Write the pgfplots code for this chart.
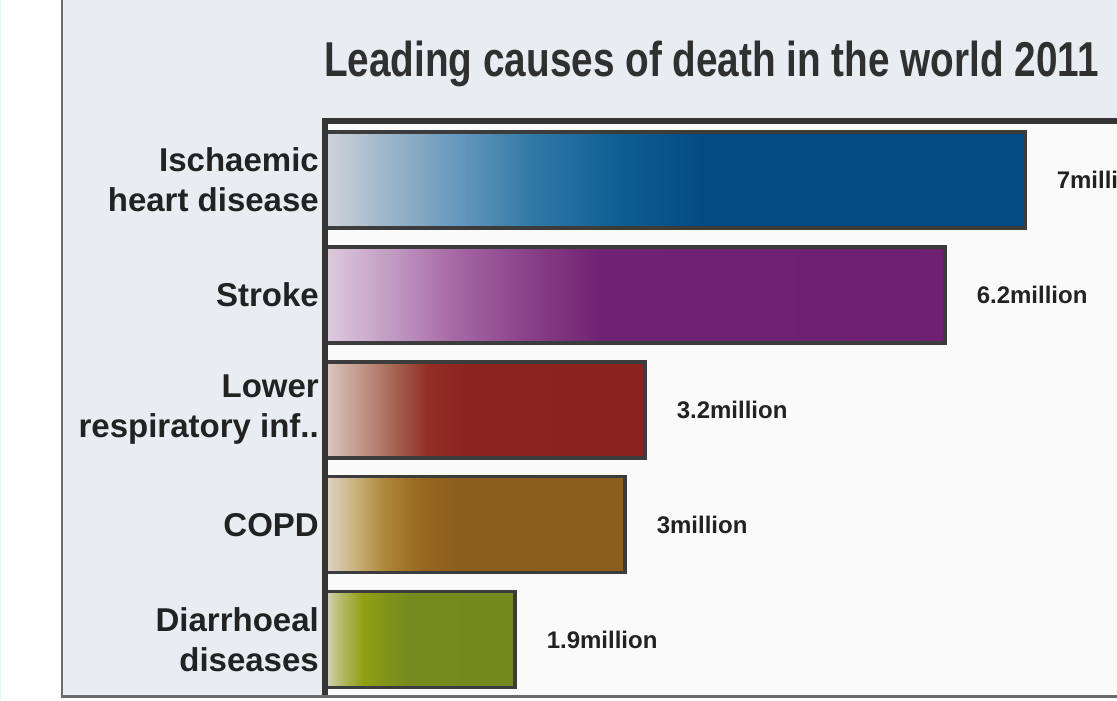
\documentclass[border=0pt]{standalone}
\usepackage{fontspec}
\setmainfont{Liberation Sans}
\usepackage{graphicx}
\usepackage{pgfplots}
\pgfplotsset{compat=1.18}
\definecolor{panel}{HTML}{E9EDF2}
\definecolor{panelborder}{HTML}{6C6C6C}
\definecolor{plotbg}{HTML}{FAFAFA}
\definecolor{axcol}{HTML}{353535}
\definecolor{barline}{HTML}{3C3C3C}
\definecolor{txt}{HTML}{222222}
\definecolor{titlecol}{HTML}{303030}
% blue
\definecolor{b0}{HTML}{D0D4DA}\definecolor{b1}{HTML}{A2B8CA}\definecolor{b2}{HTML}{6B9BBE}
\definecolor{b3}{HTML}{2E78A6}\definecolor{b4}{HTML}{0E5E94}\definecolor{b5}{HTML}{034B85}
% purple
\definecolor{p0}{HTML}{DCCCDC}\definecolor{p1}{HTML}{C49EC4}\definecolor{p2}{HTML}{A86CA8}
\definecolor{p3}{HTML}{8A4389}\definecolor{p4}{HTML}{712373}\definecolor{p5}{HTML}{6B1C6E}
% red
\definecolor{r0}{HTML}{DCC8C2}\definecolor{r1}{HTML}{C49C8E}\definecolor{r2}{HTML}{A86C5A}
\definecolor{r3}{HTML}{922E24}\definecolor{r4}{HTML}{8C2320}\definecolor{r5}{HTML}{8B2120}
% copd
\definecolor{c0}{HTML}{DDD6C8}\definecolor{c1}{HTML}{C9B27E}\definecolor{c2}{HTML}{AD8738}
\definecolor{c3}{HTML}{966720}\definecolor{c4}{HTML}{8C5F1E}\definecolor{c5}{HTML}{8A5D1F}
% green
\definecolor{g0}{HTML}{D4D4BC}\definecolor{g1}{HTML}{AFB65C}\definecolor{g2}{HTML}{90A014}
\definecolor{g3}{HTML}{80941A}\definecolor{g4}{HTML}{778A1E}\definecolor{g5}{HTML}{74881E}
\pgfdeclarehorizontalshading{blueshade}{100bp}{color(0bp)=(b0); color(25bp)=(b0); color(29bp)=(b1); color(34bp)=(b2); color(40bp)=(b3); color(46bp)=(b4); color(52bp)=(b5); color(100bp)=(b5)}
\pgfdeclarehorizontalshading{purpleshade}{100bp}{color(0bp)=(p0); color(25bp)=(p0); color(30bp)=(p1); color(35bp)=(p2); color(41bp)=(p3); color(47bp)=(p4); color(100bp)=(p5)}
\pgfdeclarehorizontalshading{redshade}{100bp}{color(0bp)=(r0); color(25bp)=(r0); color(30bp)=(r1); color(35bp)=(r2); color(41bp)=(r3); color(47bp)=(r4); color(100bp)=(r5)}
\pgfdeclarehorizontalshading{copdshade}{100bp}{color(0bp)=(c0); color(25bp)=(c0); color(30bp)=(c1); color(35bp)=(c2); color(41bp)=(c3); color(47bp)=(c4); color(100bp)=(c5)}
\pgfdeclarehorizontalshading{greenshade}{100bp}{color(0bp)=(g0); color(25bp)=(g0); color(30bp)=(g1); color(35bp)=(g2); color(41bp)=(g3); color(47bp)=(g4); color(100bp)=(g5)}
\begin{document}
\begin{tikzpicture}
\clip (0pt,0pt) rectangle (1117pt,701pt);
\path[use as bounding box] (0pt,0pt) rectangle (1117pt,701pt);
\fill[white] (0pt,0pt) rectangle (1117pt,701pt);
\fill[cyan!12] (0pt,0pt) rectangle (1.2pt,701pt);
\fill[panel] (62pt,4pt) rectangle (1130pt,705pt);
\node[anchor=base west, inner sep=0pt, text=titlecol] at (324pt,624pt)
  {\scalebox{0.79}[1]{\fontsize{49}{50}\selectfont\bfseries Leading causes of death in the world 2011}};
\begin{axis}[
  at={(325pt,578.4pt)}, anchor=north west,
  scale only axis, width=850pt, height=574.4pt,
  xmin=0, xmax=8.5, ymin=-0.5, ymax=4.5, y dir=reverse,
  axis line style={draw=none},
  axis background/.style={fill=plotbg},
  xtick=\empty, ytick={0,1,2,3,4},
  major tick length=0pt,
  yticklabels={{Ischaemic\\heart disease},{Stroke},{Lower\\respiratory inf..},{COPD},{Diarrhoeal\\diseases}},
  yticklabel style={align=right, inner sep=0pt, xshift=-6pt, text=txt, font=\fontsize{33}{40}\selectfont\bfseries},
  clip=false,
  every node near coord/.append style={anchor=west, inner sep=0pt, xshift=30pt, text=txt, font=\fontsize{24}{26}\selectfont\bfseries},
]
\addplot[xbar, bar shift=0pt, bar width=0.835, draw=barline, line width=3.5pt, shade, shading=blueshade, nodes near coords={7million}] coordinates {(7,0)};
\addplot[xbar, bar shift=0pt, bar width=0.835, draw=barline, line width=3.5pt, shade, shading=purpleshade, nodes near coords={6.2million}] coordinates {(6.2,1)};
\addplot[xbar, bar shift=0pt, bar width=0.835, draw=barline, line width=3.5pt, shade, shading=redshade, nodes near coords={3.2million}] coordinates {(3.2,2)};
\addplot[xbar, bar shift=0pt, bar width=0.835, draw=barline, line width=3.5pt, shade, shading=copdshade, nodes near coords={3million}] coordinates {(3,3)};
\addplot[xbar, bar shift=0pt, bar width=0.835, draw=barline, line width=3.5pt, shade, shading=greenshade, nodes near coords={1.9million}] coordinates {(1.9,4)};
\end{axis}
\draw[axcol, line width=6pt] (325pt,4.5pt) -- (325pt,580pt) -- (1130pt,580pt);
\draw[panelborder, line width=2.2pt] (62pt,705pt) -- (62pt,4.5pt) -- (1130pt,4.5pt);
\end{tikzpicture}
\end{document}
